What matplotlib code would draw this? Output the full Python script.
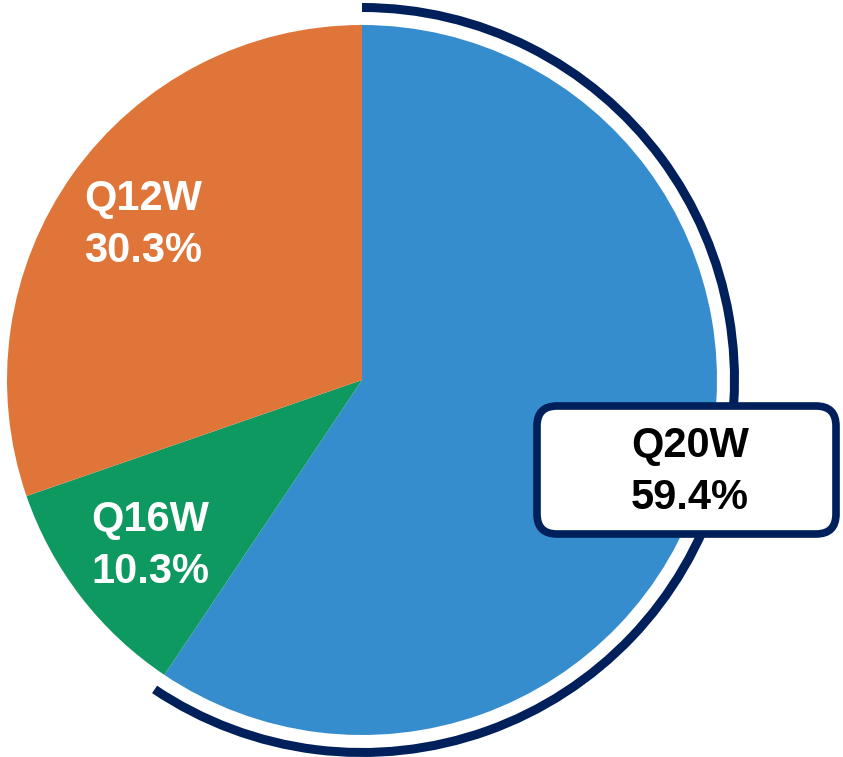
import matplotlib.pyplot as plt
from matplotlib.patches import Wedge, FancyBboxPatch

plt.rcParams["font.family"] = ["Liberation Sans", "DejaVu Sans"]

# data
labels = ["Q20W", "Q16W", "Q12W"]
shares = [59.4, 10.3, 30.3]
colors = ["#368DCD", "#0E9961", "#E07539"]
navy = "#00205B"

W, H = 843, 757
fig = plt.figure(figsize=(W / 100, H / 100), dpi=100)
ax = fig.add_axes([0, 0, 1, 1])
ax.set_xlim(0, W)
ax.set_ylim(0, H)
ax.set_aspect("equal")
ax.axis("off")

cx, cy, r = 362, H - 380, 355
ax.pie(shares, colors=colors, startangle=90, counterclock=False,
       center=(cx, cy), radius=r, wedgeprops=dict(linewidth=0))
ax.set_xlim(0, W)
ax.set_ylim(0, H)

# outer ring around the highlighted slice
end = 90 - shares[0] / sum(shares) * 360
ax.add_patch(Wedge((cx, cy), r + 22, end, 90, width=9, color=navy, lw=0))

# label box for Q20W
ax.add_patch(FancyBboxPatch((537, H - 534), 299, 128,
                            boxstyle="round,pad=0,rounding_size=20",
                            fc="white", ec=navy, lw=5.5, zorder=3))

txt = dict(ha="center", va="center", fontsize=30, fontweight="bold",
           linespacing=1.4, zorder=4)
ax.text(690, H - 472, f"{labels[0]}\n{shares[0]:.1f}%", color="black", **txt)
ax.text(150, H - 546, f"{labels[1]}\n{shares[1]:.1f}%", color="white", **txt)
ax.text(143, H - 225, f"{labels[2]}\n{shares[2]:.1f}%", color="white", **txt)

fig.savefig("out.png", dpi=100)
